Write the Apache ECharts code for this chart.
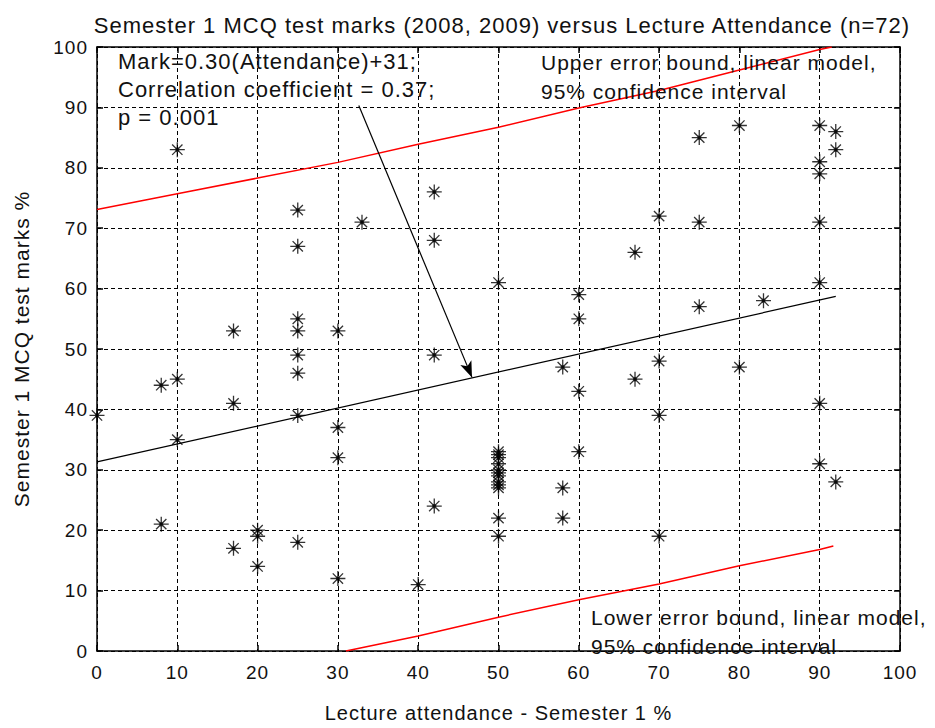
<!DOCTYPE html>
<html>
<head>
<meta charset="utf-8">
<script src="https://cdn.jsdelivr.net/npm/echarts@6/dist/echarts.min.js"></script>
<style>
  html, body { margin: 0; padding: 0; background: #fff; }
  #chart { width: 935px; height: 728px; }
  /* the original bitmap font is spaced wider than Liberation Sans */
  #chart svg text { letter-spacing: 1px; }
</style>
</head>
<body>
<div id="chart"></div>
<script>
// attendance % and MCQ mark % per student (n=72)
const attendance = [
  0, 8, 8, 10, 10, 10, 17, 17, 17, 20, 20, 20,
  25, 25, 25, 25, 25, 25, 25, 25, 30, 30, 30, 30,
  33, 40, 42, 42, 42, 42,
  50, 50, 50, 50, 50, 50, 50, 50, 50, 50, 50, 50, 50,
  58, 58, 58, 60, 60, 60, 60, 67, 67, 70, 70, 70, 70,
  75, 75, 75, 80, 80, 83, 90, 90, 90, 90, 90, 90, 90, 92, 92, 92
];
const marks = [
  39, 44, 21, 83, 45, 35, 53, 41, 17, 20, 19, 14,
  73, 67, 55, 53, 49, 46, 39, 18, 53, 37, 32, 12,
  71, 11, 76, 68, 49, 24,
  61, 33, 32.5, 32, 31, 30, 29.5, 29, 28, 27.5, 27, 22, 19,
  47, 27, 22, 59, 55, 43, 33, 66, 45, 72, 48, 39, 19,
  85, 71, 57, 87, 47, 58, 87, 81, 79, 71, 61, 41, 31, 86, 83, 28
];

// fitted model and 95% bounds
const fitLine = [[0, 31.3], [92, 58.7]];
const upperBound = [[0, 73.1], [10, 75.7], [20, 78.3], [30, 80.9], [40, 83.9], [50, 86.7],
  [60, 89.9], [70, 92.8], [80, 96.2], [90, 99.6], [91.5, 100]];
const lowerBound = [[31, 0], [40, 2.5], [50, 5.6], [60, 8.5], [70, 11.1], [80, 14.1],
  [90, 16.8], [91.7, 17.4]];
const arrowFrom = [32.6, 90.3];
const arrowTo = [46.7, 45.3];

const ticks = [0, 10, 20, 30, 40, 50, 60, 70, 80, 90, 100];

const FONT = "Liberation Sans";
const points = attendance.map((a, i) => [a, marks[i]]);
const star = "path://M0,-8L0,8M-8,0L8,0M-5.5,-5.5L5.5,5.5M-5.5,5.5L5.5,-5.5M-1.8,0A1.8,1.8 0 1 0 1.8,0A1.8,1.8 0 1 0 -1.8,0Z";

const chart = echarts.init(document.getElementById("chart"), null, { renderer: "svg" });

const baseAxis = {
  type: "value",
  min: ticks[0],
  max: ticks[ticks.length - 1],
  interval: 10,
  axisLine: { show: true, onZero: false, lineStyle: { color: "#000", width: 1.5 } },
  axisTick: { show: true, inside: true, length: 6, lineStyle: { color: "#000", width: 1.5 } },
};

chart.setOption({
  animation: false,
  backgroundColor: "#fff",
  title: {
    text: "Semester 1 MCQ test marks (2008, 2009) versus Lecture Attendance (n=72)",
    left: 497,
    top: 9,
    textAlign: "center",
    textStyle: { fontFamily: FONT, fontSize: 22, fontWeight: "normal", color: "#111" }
  },
  grid: { left: 97, right: 35, top: 47, bottom: 66, containLabel: false },
  xAxis: [
    Object.assign({}, baseAxis, {
      position: "bottom",
      name: "Lecture attendance - Semester 1 %",
      nameLocation: "middle",
      nameGap: 52,
      nameTextStyle: { fontFamily: FONT, fontSize: 20, color: "#111" },
      axisLabel: { fontFamily: FONT, fontSize: 19, color: "#111", margin: 12 },
      splitLine: { show: true, lineStyle: { color: "#000", type: [4, 3], width: 1 } }
    }),
    Object.assign({}, baseAxis, {
      position: "top",
      axisLabel: { show: false },
      splitLine: { show: false }
    })
  ],
  yAxis: [
    Object.assign({}, baseAxis, {
      position: "left",
      name: "Semester 1 MCQ test marks %",
      nameLocation: "middle",
      nameGap: 65,
      nameRotate: 90,
      nameTextStyle: { fontFamily: FONT, fontSize: 21, color: "#111" },
      axisLabel: { fontFamily: FONT, fontSize: 19, color: "#111", margin: 9 },
      splitLine: { show: true, lineStyle: { color: "#000", type: [4, 3], width: 1 } }
    }),
    Object.assign({}, baseAxis, {
      position: "right",
      axisLabel: { show: false },
      splitLine: { show: false }
    })
  ],
  series: [
    {
      type: "line",
      data: upperBound,
      showSymbol: false,
      lineStyle: { color: "#ff0000", width: 1.5 },
      z: 3
    },
    {
      type: "line",
      data: lowerBound,
      showSymbol: false,
      lineStyle: { color: "#ff0000", width: 1.5 },
      z: 3
    },
    {
      type: "line",
      data: fitLine,
      showSymbol: false,
      lineStyle: { color: "#000", width: 1.2 },
      z: 3,
      markLine: {
        silent: true,
        symbol: ["none", "arrow"],
        symbolSize: [9, 16],
        label: { show: false },
        lineStyle: { color: "#000", type: "solid", width: 1.2 },
        data: [[{ coord: arrowFrom }, { coord: arrowTo }]]
      }
    },
    {
      type: "scatter",
      data: points,
      symbol: star,
      symbolSize: 15,
      itemStyle: { color: "#000", borderColor: "#000", borderWidth: 1.3 },
      z: 4
    }
  ],
  graphic: [
    {
      type: "text", left: 118, top: 47, z: 10,
      style: {
        text: "Mark=0.30(Attendance)+31;\nCorrelation coefficient = 0.37;\np = 0.001",
        font: "22px " + FONT, fill: "#111", lineHeight: 28
      }
    },
    {
      type: "text", left: 541, top: 48, z: 10,
      style: {
        text: "Upper error bound, linear model,\n95% confidence interval",
        font: "21px " + FONT, fill: "#111", lineHeight: 29
      }
    },
    {
      type: "text", left: 591, top: 603, z: 10,
      style: {
        text: "Lower error bound, linear model,\n95% confidence interval",
        font: "21px " + FONT, fill: "#111", lineHeight: 29
      }
    }
  ]
});
</script>
</body>
</html>
